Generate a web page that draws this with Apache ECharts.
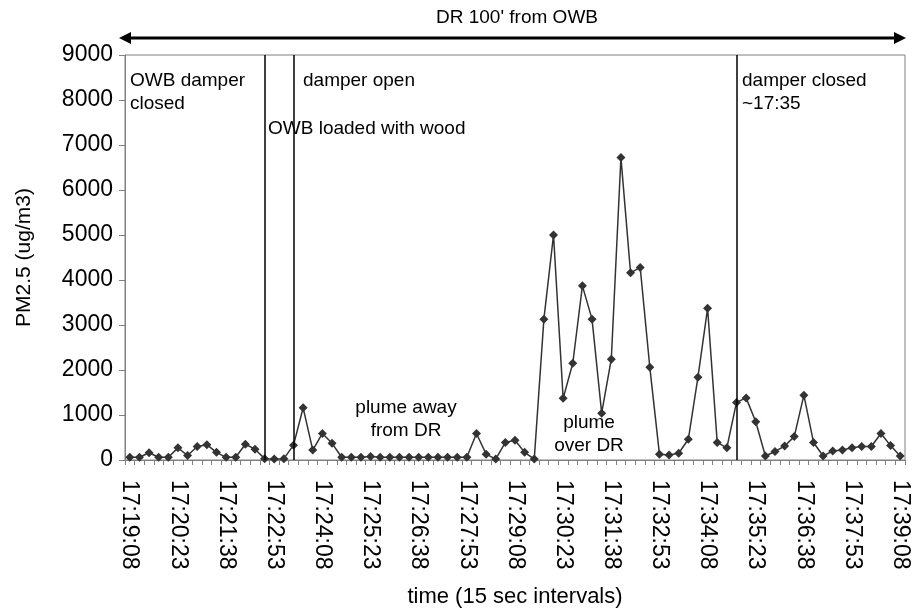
<!DOCTYPE html>
<html>
<head>
<meta charset="utf-8">
<script src="https://cdn.jsdelivr.net/npm/echarts@6/dist/echarts.min.js"></script>
<style>
  html, body { margin: 0; padding: 0; background: #fff; }
  #chart { width: 912px; height: 613px; }
</style>
</head>
<body>
<div id="chart"></div>
<script>
// time stamps, 15 sec apart
const times = [
  '17:19:08', '17:19:23', '17:19:38', '17:19:53',
  '17:20:08', '17:20:23', '17:20:38', '17:20:53',
  '17:21:08', '17:21:23', '17:21:38', '17:21:53',
  '17:22:08', '17:22:23', '17:22:38', '17:22:53',
  '17:23:08', '17:23:23', '17:23:38', '17:23:53',
  '17:24:08', '17:24:23', '17:24:38', '17:24:53',
  '17:25:08', '17:25:23', '17:25:38', '17:25:53',
  '17:26:08', '17:26:23', '17:26:38', '17:26:53',
  '17:27:08', '17:27:23', '17:27:38', '17:27:53',
  '17:28:08', '17:28:23', '17:28:38', '17:28:53',
  '17:29:08', '17:29:23', '17:29:38', '17:29:53',
  '17:30:08', '17:30:23', '17:30:38', '17:30:53',
  '17:31:08', '17:31:23', '17:31:38', '17:31:53',
  '17:32:08', '17:32:23', '17:32:38', '17:32:53',
  '17:33:08', '17:33:23', '17:33:38', '17:33:53',
  '17:34:08', '17:34:23', '17:34:38', '17:34:53',
  '17:35:08', '17:35:23', '17:35:38', '17:35:53',
  '17:36:08', '17:36:23', '17:36:38', '17:36:53',
  '17:37:08', '17:37:23', '17:37:38', '17:37:53',
  '17:38:08', '17:38:23', '17:38:38', '17:38:53',
  '17:39:08'
]

// PM2.5 (ug/m3)
const pm25 = [
  60, 60, 160, 60, 60, 270, 100, 300, 340, 170,
  60, 60, 350, 240, 30, 20, 30, 330, 1160, 220,
  590, 370, 60, 60, 60, 80, 60, 60, 60, 60,
  60, 60, 60, 60, 60, 60, 590, 130, 20, 390,
  440, 170, 20, 3130, 5000, 1370, 2150, 3870, 3130, 1040,
  2240, 6720, 4160, 4280, 2060, 130, 110, 150, 460, 1840,
  3370, 390, 270, 1280, 1380, 850, 90, 190, 310, 520,
  1440, 390, 90, 200, 220, 270, 300, 300, 590, 320,
  90
]

// event markers (vertical lines)
const events = ['17:22:38', '17:23:23', '17:34:53']

const font = "'Liberation Sans', Arial, sans-serif"
const chart = echarts.init(document.getElementById('chart'))

function note(x, y, text, align) {
  return {
    type: 'text', x: x, y: y,
    style: { text: text, font: '19px ' + font, fill: '#000', align: align || 'left', lineHeight: 23 }
  }
}

chart.setOption({
  animation: false,
  grid: { left: 125, right: 7, top: 55, bottom: 153, show: true, borderColor: '#808080', borderWidth: 1 },
  xAxis: {
    type: 'category',
    data: times,
    boundaryGap: true,
    name: 'time (15 sec intervals)',
    nameLocation: 'middle',
    nameGap: 126,
    nameTextStyle: { fontFamily: font, fontSize: 22, color: '#000' },
    axisLine: { lineStyle: { color: '#808080', width: 1 } },
    axisTick: { show: true, interval: 0, length: 5, lineStyle: { color: '#808080' } },
    axisLabel: { interval: 4, rotate: -90, margin: 20, fontFamily: font, fontSize: 23, color: '#000' },
    splitLine: { show: false }
  },
  yAxis: {
    type: 'value',
    min: 0, max: 9000, interval: 1000,
    name: 'PM2.5 (ug/m3)',
    nameLocation: 'middle',
    nameGap: 90,
    nameTextStyle: { fontFamily: font, fontSize: 21, color: '#000' },
    axisLine: { show: true, lineStyle: { color: '#808080', width: 1 } },
    axisTick: { show: true, length: 6, lineStyle: { color: '#808080' } },
    axisLabel: { margin: 12, fontFamily: font, fontSize: 23, color: '#000', formatter: v => String(v) },
    splitLine: { show: false }
  },
  series: [{
    type: 'line',
    data: pm25,
    symbol: 'diamond',
    symbolSize: 9,
    showAllSymbol: true,
    lineStyle: { color: '#333', width: 1.5 },
    itemStyle: { color: '#333' },
    markLine: {
      silent: true,
      symbol: 'none',
      label: { show: false },
      lineStyle: { color: '#000', width: 1.5, type: 'solid' },
      data: events.map(t => ({ xAxis: t }))
    }
  }],
  graphic: [
    { type: 'line', shape: { x1: 128, y1: 38, x2: 897, y2: 38 }, style: { stroke: '#000', lineWidth: 3 } },
    { type: 'polygon', shape: { points: [[119, 38], [131, 32], [131, 44]] }, style: { fill: '#000' } },
    { type: 'polygon', shape: { points: [[906, 38], [894, 32], [894, 44]] }, style: { fill: '#000' } },
    note(517, 6, "DR 100' from OWB", 'center'),
    note(130, 69, 'OWB damper\nclosed'),
    note(303, 69, 'damper open'),
    note(268, 117, 'OWB loaded with wood'),
    note(742, 69, 'damper closed\n~17:35'),
    note(406, 396, 'plume away\nfrom DR', 'center'),
    note(589, 411, 'plume\nover DR', 'center')
  ]
})
</script>
</body>
</html>
